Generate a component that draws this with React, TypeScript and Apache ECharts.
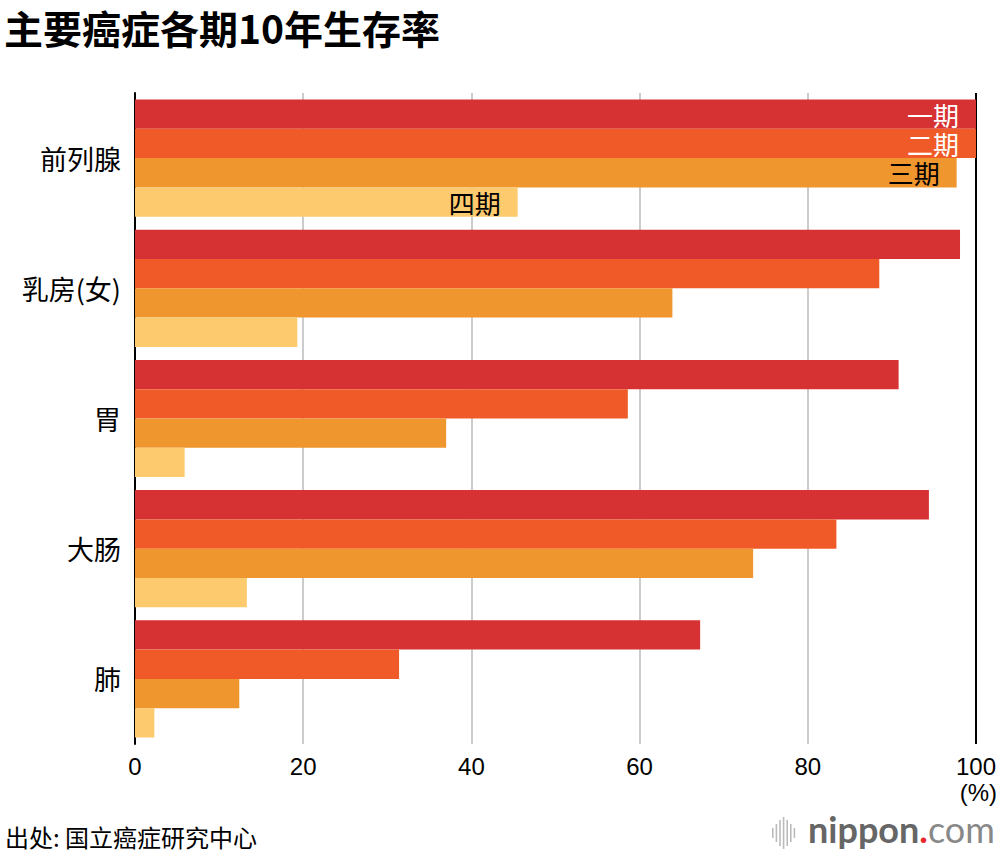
import React, { useEffect, useRef } from "react";
import * as echarts from "echarts";

const categories = ["前列腺", "乳房(女)", "胃", "大肠", "肺"];
const stageNames = ["一期", "二期", "三期", "四期"];
const stage1 = [100, 98.1, 90.8, 94.4, 67.2];
const stage2 = [100, 88.5, 58.6, 83.4, 31.4];
const stage3 = [97.7, 63.9, 37.0, 73.5, 12.4];
const stage4 = [45.5, 19.3, 5.9, 13.3, 2.3];
const xTicks = [0, 20, 40, 60, 80, 100];

const stageValues = [stage1, stage2, stage3, stage4];
const stageColors = ["#D63133", "#F05A28", "#F0962E", "#FDCA6E"];
const labelColors = ["#ffffff", "#ffffff", "#000000", "#000000"];

const FONT = "'Noto Sans CJK SC', 'Noto Sans', sans-serif";
const NUMFONT = "'Liberation Sans', 'Noto Sans', sans-serif";
const LOGOFONT = "'Lato', 'Noto Sans', sans-serif";

export default function App() {
  const ref = useRef<HTMLDivElement>(null);
  useEffect(() => {
    if (!ref.current) return;
    const chart = echarts.init(ref.current, null, { renderer: "svg" });
    const series = stageValues.map((vals, si) => ({
      type: "bar",
      name: stageNames[si],
      barGap: "0%",
      barCategoryGap: "10%",
      itemStyle: { color: stageColors[si] },
      data: vals.map((v, ci) =>
        ci === 0
          ? {
              value: v,
              label: {
                show: true,
                position: "insideRight",
                distance: 17,
                formatter: stageNames[si],
                color: labelColors[si],
                fontSize: 26,
                lineHeight: 28,
                fontFamily: FONT,
              },
            }
          : v
      ),
    }));
    const logoBars = [10, 18, 26, 32, 26, 18, 10];
    const logoGraphics = logoBars.map((h, i) => ({
      type: "rect",
      left: 772 + i * 3.6,
      top: 833 - h / 2,
      shape: { width: 1.6, height: h },
      style: { fill: "#bbbbbb" },
    }));
    chart.setOption({
      animation: false,
      grid: { left: 135, right: 24, top: 93, bottom: 112, containLabel: false },
      xAxis: {
        type: "value",
        min: xTicks[0],
        max: xTicks[xTicks.length - 1],
        interval: 20,
        axisLine: { show: false },
        axisTick: { show: false },
        axisLabel: {
          color: "#000",
          fontSize: 24,
          fontFamily: NUMFONT,
          margin: 10,
        },
        splitLine: {
          show: true,
          lineStyle: {
            color: ["#cccccc", "#cccccc", "#cccccc", "#cccccc", "#cccccc", "#000000"],
            width: 2,
          },
        },
      },
      yAxis: {
        type: "category",
        data: categories,
        inverse: true,
        axisLine: { show: true, lineStyle: { color: "#000", width: 2 } },
        axisTick: { show: false },
        axisLabel: {
          color: "#000",
          fontSize: 27,
          fontFamily: FONT,
          margin: 14,
        },
      },
      series,
      graphic: [
        {
          type: "text",
          left: 4,
          top: 7,
          style: {
            text: "主要癌症各期10年生存率",
            fontSize: 39,
            fontWeight: "bold",
            fontFamily: FONT,
            fill: "#000",
          },
        },
        {
          type: "text",
          right: 3,
          top: 780,
          style: {
            text: "(%)",
            fontSize: 24,
            fontFamily: NUMFONT,
            fill: "#000",
          },
        },
        {
          type: "text",
          left: 5,
          top: 824,
          style: {
            text: "出处: 国立癌症研究中心",
            fontSize: 24,
            fontFamily: FONT,
            fill: "#000",
          },
        },
        ...logoGraphics,
        {
          type: "text",
          left: 808,
          top: 811,
          style: {
            rich: {
              a: { fontSize: 36, fontWeight: "bold", fill: "#666666", fontFamily: LOGOFONT },
              b: { fontSize: 36, fontWeight: "bold", fill: "#e8262c", fontFamily: LOGOFONT },
              c: { fontSize: 36, fill: "#888888", fontFamily: LOGOFONT },
            },
            text: "{a|nippon}{b|.}{c|com}",
          },
        },
      ],
    });
    return () => chart.dispose();
  }, []);
  return (
    <div
      ref={ref}
      style={{ position: "fixed", left: 0, top: 0, width: 1000, height: 856, background: "#fff" }}
    />
  );
}
